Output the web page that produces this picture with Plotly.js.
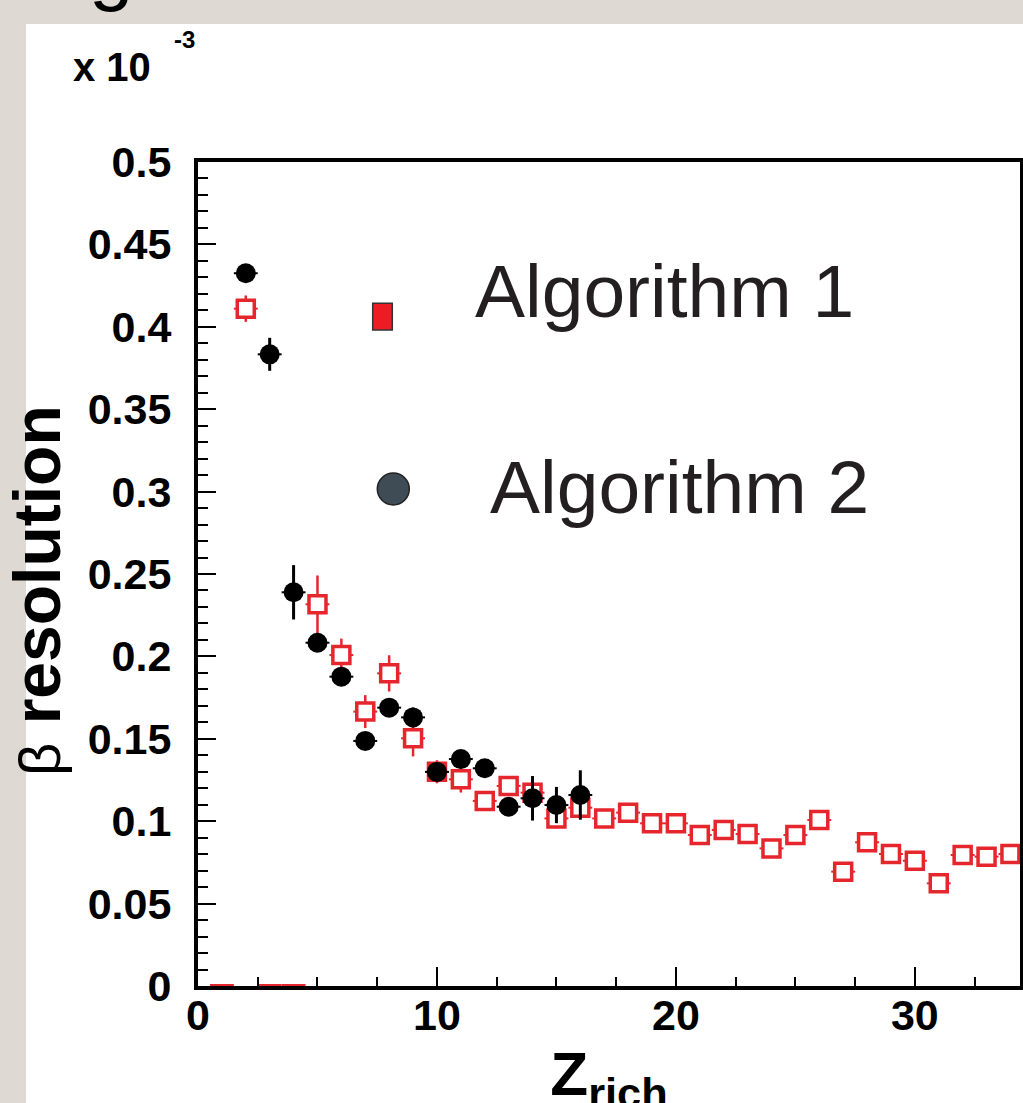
<!DOCTYPE html>
<html>
<head>
<meta charset="utf-8">
<script src="https://cdn.plot.ly/plotly-3.0.1.min.js"></script>
<style>html,body{margin:0;padding:0;background:#dedad3;overflow:hidden;}#chart{width:1023px;height:1180px;}</style>
</head>
<body>
<div id="chart"></div>
<script>
// ---- data (β resolution in units of 10^-3) ----
const alg1Z   = [2, 5, 6, 7, 8, 9, 10, 11, 12, 13, 14, 15, 16, 17, 18, 19, 20, 21, 22, 23, 24, 25, 26, 27, 28, 29, 30, 31, 32, 33, 34];
const alg1Res = [0.411, 0.2316, 0.2008, 0.1665, 0.1897, 0.1503, 0.130, 0.1254, 0.1123, 0.1214, 0.1173, 0.1017, 0.1082, 0.1017, 0.1052, 0.0987, 0.0987, 0.0916, 0.0947, 0.0922, 0.0835, 0.0916, 0.1007, 0.0694, 0.0872, 0.0801, 0.0760, 0.0623, 0.0795, 0.0785, 0.0801];
const alg1Err = [0.008, 0.0175, 0.010, 0.010, 0.011, 0.011, 0.007, 0.008, 0.006, 0.006, 0.006, 0.006, 0.006, 0.005, 0.005, 0.005, 0.005, 0.005, 0.005, 0.005, 0.005, 0.005, 0.005, 0.005, 0.005, 0.005, 0.005, 0.005, 0.005, 0.005, 0.005];
const alg1EmptyZ   = [1, 3, 4];
const alg1EmptyRes = [0, 0, 0];

const alg2Z   = [2, 3, 4, 5, 6, 7, 8, 9, 10, 11, 12, 13, 14, 15, 16];
const alg2Res = [0.4325, 0.3833, 0.2389, 0.2083, 0.1877, 0.1487, 0.1689, 0.1630, 0.1299, 0.1377, 0.1321, 0.1088, 0.1139, 0.1098, 0.1159];
const alg2Err = [0.004, 0.010, 0.0165, 0.005, 0.005, 0.005, 0.005, 0.006, 0.004, 0.005, 0.005, 0.005, 0.0135, 0.011, 0.015];

const binHalfWidth = 0.5;
const legendLabels = ['Algorithm 1', 'Algorithm 2'];
const xTitle = '<b>Z<sub>rich</sub></b>';
const yTitle = '<span style="font-size:58px">β</span> <b>resolution</b><span style="font-size:40px">&nbsp;&nbsp;&nbsp;</span>';

// ---- layout geometry (figure is taller than the window; the window crops it at 1103 px) ----
const W = 1023, H = 1180;
const L = 198, R = 3, T = 162, B = H - 986;
const pw = W - L - R, ph = H - T - B;
const px = v => (v - L) / pw;          // pixel x -> paper x
const py = v => (H - B - v) / ph;      // pixel y -> paper y

const FONT = 'Liberation Sans, Arial, Helvetica, sans-serif';
const RED = '#e5262d';

const traces = [
  {
    name: legendLabels[0], x: alg1Z, y: alg1Res, type: 'scatter', mode: 'markers',
    marker: {symbol: 'square', size: 17, color: 'white', line: {color: RED, width: 3.5}},
    error_y: {type: 'data', array: alg1Err, visible: true, color: RED, thickness: 2.5, width: 0},
    error_x: {type: 'constant', value: binHalfWidth, visible: true, color: RED, thickness: 2, width: 0},
    showlegend: false, cliponaxis: true
  },
  {
    name: legendLabels[0] + ' (empty bins)', x: alg1EmptyZ, y: alg1EmptyRes, type: 'scatter', mode: 'markers',
    marker: {size: 0.1, color: RED, opacity: 0},
    error_x: {type: 'constant', value: binHalfWidth, visible: true, color: RED, thickness: 4, width: 0},
    showlegend: false, hoverinfo: 'skip'
  },
  {
    name: legendLabels[1], x: alg2Z, y: alg2Res, type: 'scatter', mode: 'markers',
    marker: {symbol: 'circle', size: 20, color: 'black'},
    error_y: {type: 'data', array: alg2Err, visible: true, color: 'black', thickness: 3, width: 0},
    error_x: {type: 'constant', value: binHalfWidth, visible: true, color: 'black', thickness: 2, width: 0},
    showlegend: false
  }
];

const tickFont = {family: FONT, size: 43, color: 'black', weight: 'bold'};

const layout = {
  width: W, height: H,
  margin: {l: L, r: R, t: T, b: B, pad: 0},
  paper_bgcolor: '#dedad3',
  plot_bgcolor: 'white',
  showlegend: false,
  xaxis: {
    range: [0, 34.4], autorange: false,
    tickmode: 'linear', tick0: 0, dtick: 10,
    ticks: 'inside', ticklen: 19, tickwidth: 2, tickcolor: 'black',
    minor: {dtick: 2.5, tick0: 0, ticks: 'inside', ticklen: 9, tickwidth: 2, tickcolor: 'black', showgrid: false},
    showline: true, linecolor: 'black', linewidth: 4, mirror: true,
    showgrid: false, zeroline: false, automargin: true,
    tickfont: tickFont, ticklabelstandoff: -12,
    title: {text: xTitle, font: {family: FONT, size: 62, color: 'black'}, standoff: 4}
  },
  yaxis: {
    range: [0, 0.5], autorange: false,
    tickmode: 'linear', tick0: 0, dtick: 0.05,
    ticks: 'inside', ticklen: 18, tickwidth: 2, tickcolor: 'black',
    minor: {dtick: 0.01, tick0: 0, ticks: 'inside', ticklen: 10, tickwidth: 2, tickcolor: 'black', showgrid: false},
    showline: true, linecolor: 'black', linewidth: 4, mirror: true,
    showgrid: false, zeroline: false,
    tickfont: tickFont, ticklabelstandoff: 14,
    title: {text: yTitle, font: {family: FONT, size: 66, color: 'black'}, standoff: 8}
  },
  shapes: [
    // white slide panel over the marble background
    {type: 'rect', xref: 'paper', yref: 'paper', layer: 'below',
     x0: px(26), x1: px(W + 5), y0: py(H + 5), y1: py(24),
     fillcolor: 'white', line: {width: 0}},
    // legend symbols
    {type: 'rect', xref: 'paper', yref: 'paper',
     x0: px(372.7), x1: px(392.3), y0: py(330), y1: py(303.3),
     fillcolor: '#ed1c24', line: {color: '#333333', width: 1.5}},
    {type: 'circle', xref: 'paper', yref: 'paper',
     x0: px(377.3), x1: px(409.3), y0: py(505), y1: py(473),
     fillcolor: '#3f4c55', line: {color: '#222222', width: 1.5}}
  ],
  annotations: [
    {text: legendLabels[0], xref: 'paper', yref: 'paper', x: px(473), y: py(291), xanchor: 'left', yanchor: 'middle',
     showarrow: false, font: {family: FONT, size: 75, color: '#231f20'}},
    {text: legendLabels[1], xref: 'paper', yref: 'paper', x: px(488), y: py(487), xanchor: 'left', yanchor: 'middle',
     showarrow: false, font: {family: FONT, size: 75, color: '#231f20'}},
    {text: '<b>x 10</b>', xref: 'paper', yref: 'paper', x: px(71), y: py(67), xanchor: 'left', yanchor: 'middle',
     showarrow: false, font: {family: FONT, size: 40, color: 'black'}},
    {text: '<b>-3</b>', xref: 'paper', yref: 'paper', x: px(172), y: py(39), xanchor: 'left', yanchor: 'middle',
     showarrow: false, font: {family: FONT, size: 24, color: 'black'}},
    {text: 'g', xref: 'paper', yref: 'paper', x: px(87), y: py(-33), xanchor: 'left', yanchor: 'middle',
     showarrow: false, font: {family: FONT, size: 80, color: 'black'}}
  ]
};

Plotly.newPlot('chart', traces, layout, {displayModeBar: false, staticPlot: true});
</script>
</body>
</html>
